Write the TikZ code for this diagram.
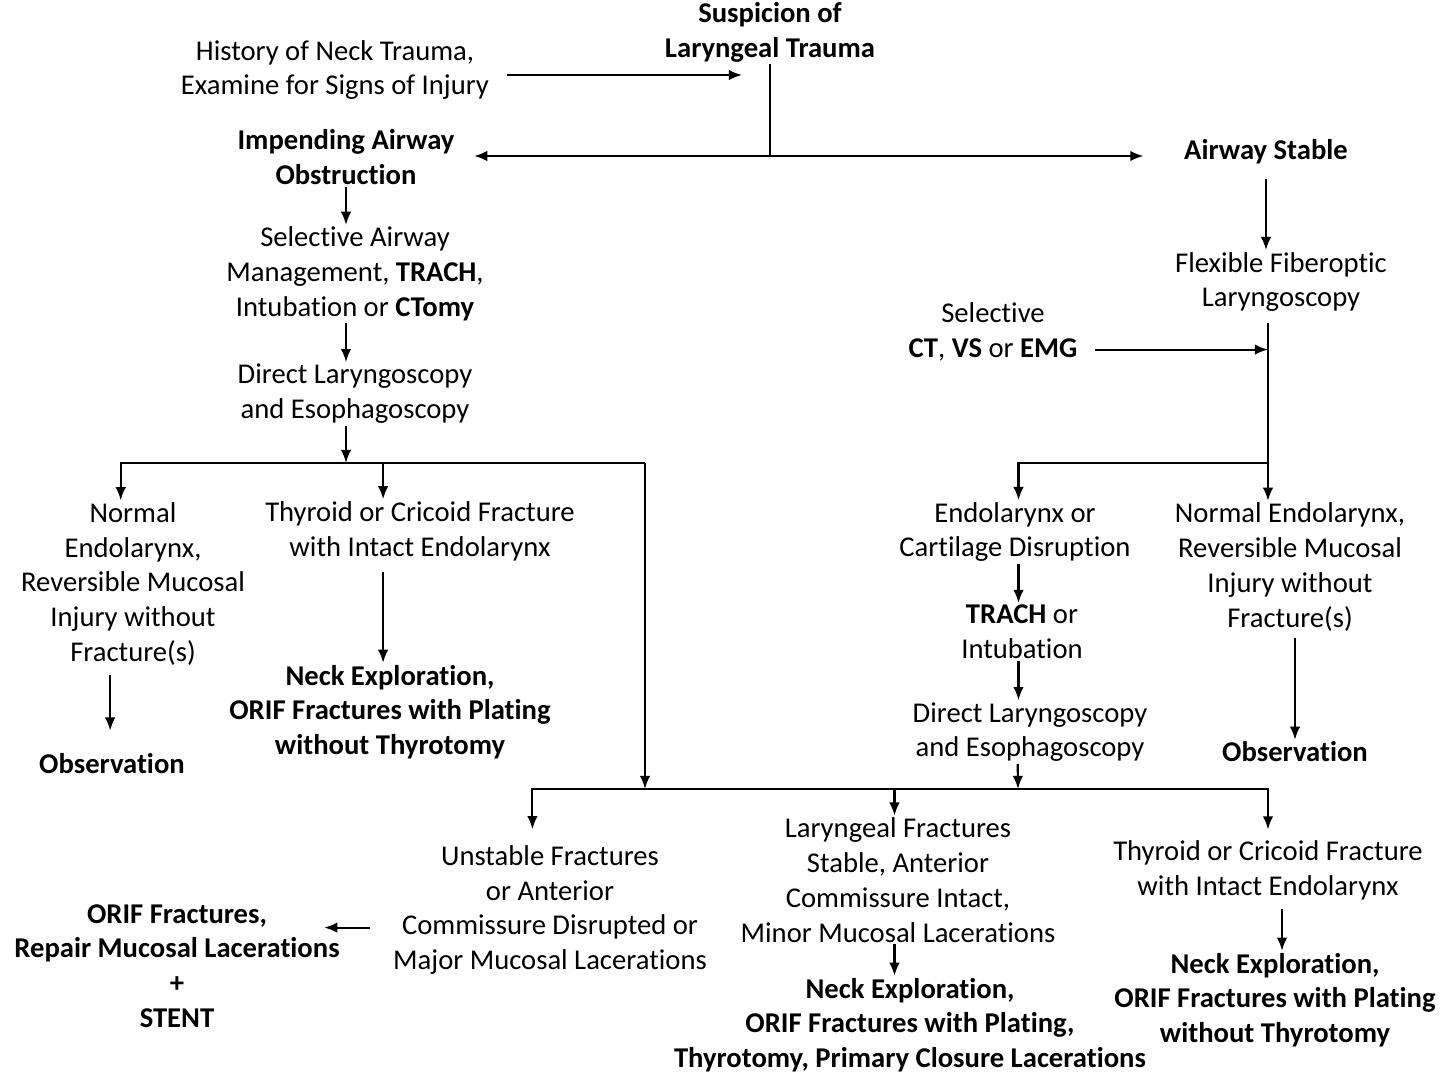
\documentclass[tikz,border=0pt]{standalone}
\usepackage{fontspec}
\setmainfont{Carlito}[Ligatures=NoCommon]
\usetikzlibrary{arrows.meta}

\begin{document}
\begin{tikzpicture}[x=0.02cm, y=-0.02cm,
    >={Latex[length=7.5pt, width=6pt]},
    txt/.style={align=center, inner sep=1pt, font=\fontsize{16.3}{19.8}\selectfont},
    bld/.style={txt, font=\fontsize{16.3}{19.8}\selectfont\bfseries},
    flow/.style={->, line width=1.2pt},
    link/.style={line width=1.2pt}]

  \useasboundingbox (0,0) rectangle (1445,1075);

  % --- Cabecera ---
  \node[bld] (susp)   at (770,32)  {Suspicion of\\Laryngeal Trauma};
  \node[txt] (hist)   at (335,70)  {History of Neck Trauma,\\Examine for Signs of Injury};
  \node[bld] (imp)    at (346,157) {Impending Airway\\Obstruction};
  \node[bld] (stable) at (1266,152) {Airway Stable};

  \coordinate (histend) at (742,75);
  \coordinate (split)   at (770,156);
  \draw[flow, shorten <=9pt] (hist.east |- histend) -- (histend);
  \draw[link] (susp.south) -- (split);
  \draw[flow] (split) -- ([xshift=10pt]imp.east |- split);
  \draw[flow] (split) -- ([xshift=-22pt]stable.west |- split);

  % --- Rama izquierda ---
  \node[txt] (sam)  at (355,274) {Selective Airway\\Management, \textbf{TRACH},\\Intubation or \textbf{CTomy}};
  \node[txt] (dle1) at (355,394) {Direct Laryngoscopy\\and Esophagoscopy};
  \draw[flow] (imp.south) -- (imp.south |- sam.north);
  \draw[flow] (sam.south -| imp.south) -- (dle1.north -| imp.south);

  \coordinate (jl)   at (346,463);
  \coordinate (busL) at (645,463);
  \draw[flow] (dle1.south -| jl) -- (jl);

  \node[txt] (nl)   at (133,584) {Normal\\Endolarynx,\\Reversible Mucosal\\Injury without\\Fracture(s)};
  \node[txt] (tc1)  at (420,531) {Thyroid or Cricoid Fracture\\with Intact Endolarynx};
  \node[bld] (obs1) at (112,764) {Observation};
  \node[bld] (ne1)  at (390,712) {Neck Exploration,\\ORIF Fractures with Plating\\without Thyrotomy};

  \draw[flow] (jl) -| ([xshift=-7pt]nl.north);
  \draw[flow] (jl) -| ([xshift=-21pt]tc1.north);
  \draw[link] (jl) -- (busL);
  \draw[flow, shorten <=4pt, shorten >=12pt] ([xshift=-13pt]nl.south) -- ([xshift=-13pt]nl.south |- obs1.north);
  \draw[flow, shorten <=5pt] ([xshift=-21pt]tc1.south) -- ([xshift=-21pt]tc1.south |- ne1.north);

  % --- Rama derecha ---
  \node[txt] (ffl) at (1281,282) {Flexible Fiberoptic\\Laryngoscopy};
  \node[txt] (sel) at (993,332)  {Selective\\\textbf{CT}, \textbf{VS} or \textbf{EMG}};
  \draw[flow, shorten <=7pt] (stable.south) -- (stable.south |- ffl.north);

  \coordinate (jr) at (1268,463);
  \draw[link, shorten <=5pt] (ffl.south -| jr) -- (jr);
  \draw[flow, shorten <=9pt] ([yshift=-10pt]sel.east) -- ([yshift=-10pt]sel.east -| jr);

  \node[txt] (ecd)   at (1015,532) {Endolarynx or\\Cartilage Disruption};
  \node[txt] (ner)   at (1290,567) {Normal Endolarynx,\\Reversible Mucosal\\Injury without\\Fracture(s)};
  \node[txt] (trach) at (1022,632) {\textbf{TRACH} or\\Intubation};
  \node[txt] (dle2)  at (1030,732) {Direct Laryngoscopy\\and Esophagoscopy};
  \node[bld] (obs2)  at (1295,752) {Observation};

  \draw[flow] (jr) -- (jr |- ner.north);
  \draw[flow] (jr) -| ([xshift=2pt]ecd.north);
  \draw[flow] ([xshift=2pt]ecd.south) -- ([xshift=2pt]ecd.south |- trach.north);
  \draw[flow] ([xshift=-2pt]trach.south) -- ([xshift=-2pt]trach.south |- dle2.north);
  \draw[flow, shorten <=3pt] (ner.south -| obs2.north) -- (obs2.north);

  % --- Rama inferior ---
  \coordinate (jb) at (1018,789);
  \draw[flow] ([xshift=-7pt]dle2.south) -- (jb);
  \draw[flow] (busL) -- (busL |- jb);

  \node[txt] (uf)   at (550,910)  {Unstable Fractures\\or Anterior\\Commissure Disrupted or\\Major Mucosal Lacerations};
  \node[txt] (lf)   at (898,880)  {Laryngeal Fractures\\Stable, Anterior\\Commissure Intact,\\Minor Mucosal Lacerations};
  \node[txt] (tc2)  at (1268,870) {Thyroid or Cricoid Fracture\\with Intact Endolarynx};
  \node[bld] (orif) at (177,966)  {ORIF Fractures,\\Repair Mucosal Lacerations\\+\\STENT};
  \node[bld] (ne2)  at (910,1025) {Neck Exploration,\\ORIF Fractures with Plating,\\Thyrotomy, Primary Closure Lacerations};
  \node[bld] (ne3)  at (1275,1000) {Neck Exploration,\\ORIF Fractures with Plating\\without Thyrotomy};

  \draw[flow, shorten >=8pt] (jb) -| ([xshift=-10pt]uf.north);
  \draw[flow, shorten >=5pt] (jb) -| (tc2.north);
  \draw[flow] ([xshift=-2pt]lf.north |- jb) -- ([xshift=-2pt]lf.north);
  \draw[flow, shorten <=12pt] ([yshift=-10pt]uf.west) -- ([xshift=-10pt, yshift=-10pt]orif.east |- uf.west);
  \draw[flow] ([xshift=-2pt]lf.south) -- ([xshift=-2pt]lf.south |- ne2.north);
  \draw[flow, shorten <=4pt] ([xshift=8pt]tc2.south) -- ([xshift=8pt]tc2.south |- ne3.north);

\end{tikzpicture}
\end{document}
